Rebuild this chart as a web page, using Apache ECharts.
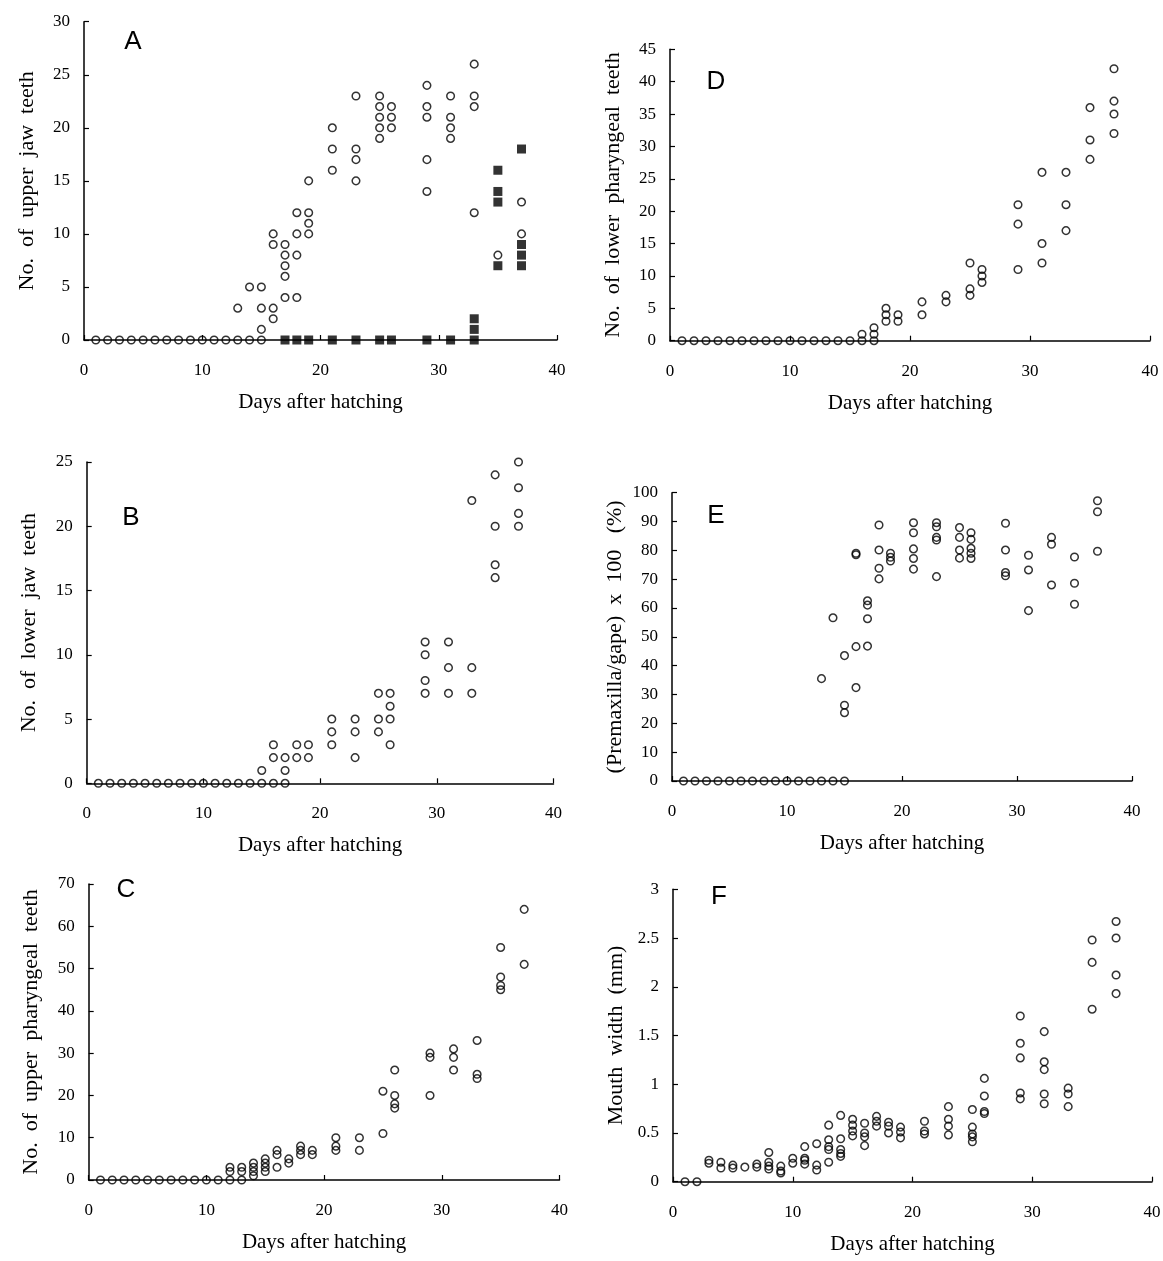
<!DOCTYPE html>
<html>
<head>
<meta charset="utf-8">
<title>Tooth development after hatching</title>
<script src="https://cdn.jsdelivr.net/npm/echarts@6/dist/echarts.min.js"></script>
<style>
  html, body { margin: 0; padding: 0; background: #fff; }
  #chart { width: 1163px; height: 1261px; }
</style>
</head>
<body>
<div id="chart"></div>
<script>
// Shared x axis: days after hatching
const dayTicks = { min: 0, max: 40, interval: 10 };

// A: number of upper jaw teeth (open circles and filled squares)
const upperJawOpen = [
  [1,0],[2,0],[3,0],[4,0],[5,0],[6,0],[7,0],[8,0],[9,0],[10,0],[11,0],[12,0],[13,0],[14,0],[15,0],
  [13,3],[14,5],[15,5],[15,3],[15,1],
  [16,10],[16,9],[16,3],[16,2],
  [17,9],[17,8],[17,7],[17,6],[17,4],
  [18,12],[18,10],[18,8],[18,4],
  [19,15],[19,12],[19,11],[19,10],
  [21,20],[21,18],[21,16],
  [23,23],[23,18],[23,17],[23,15],
  [25,23],[25,22],[25,21],[25,20],[25,19],
  [26,22],[26,21],[26,20],
  [29,24],[29,22],[29,21],[29,17],[29,14],
  [31,23],[31,21],[31,20],[31,19],
  [33,26],[33,23],[33,22],[33,12],
  [35,8],
  [37,13],[37,10]
];
const upperJawFilled = [
  [17,0],[18,0],[19,0],[21,0],[23,0],[25,0],[26,0],[29,0],[31,0],[33,0],[33,1],[33,2],
  [35,16],[35,14],[35,13],[35,7],
  [37,18],[37,9],[37,8],[37,7]
];

// B: number of lower jaw teeth
const lowerJaw = [
  [1,0],[2,0],[3,0],[4,0],[5,0],[6,0],[7,0],[8,0],[9,0],[10,0],[11,0],[12,0],[13,0],[14,0],[15,0],[16,0],[17,0],
  [15,1],[16,3],[16,2],[17,2],[17,1],[18,3],[18,2],[19,3],[19,2],
  [21,5],[21,4],[21,3],[23,5],[23,4],[23,2],
  [25,7],[25,5],[25,4],[26,7],[26,6],[26,5],[26,3],
  [29,11],[29,10],[29,8],[29,7],[31,11],[31,9],[31,7],
  [33,22],[33,9],[33,7],
  [35,24],[35,20],[35,17],[35,16],
  [37,25],[37,23],[37,21],[37,20]
];

// C: number of upper pharyngeal teeth
const upperPharyngeal = [
  [1,0],[2,0],[3,0],[4,0],[5,0],[6,0],[7,0],[8,0],[9,0],[10,0],[11,0],[12,0],[13,0],
  [12,3],[12,2],[13,3],[13,2],
  [14,4],[14,3],[14,2],[14,1],
  [15,5],[15,4],[15,3],[15,2],
  [16,7],[16,6],[16,3],[17,5],[17,4],
  [18,8],[18,7],[18,6],[19,7],[19,6],
  [21,10],[21,8],[21,7],[23,10],[23,7],
  [25,21],[25,11],[26,26],[26,20],[26,18],[26,17],
  [29,30],[29,29],[29,20],[31,31],[31,29],[31,26],
  [33,33],[33,25],[33,24],
  [35,55],[35,48],[35,46],[35,45],
  [37,64],[37,51]
];

// D: number of lower pharyngeal teeth
const lowerPharyngeal = [
  [1,0],[2,0],[3,0],[4,0],[5,0],[6,0],[7,0],[8,0],[9,0],[10,0],[11,0],[12,0],[13,0],[14,0],[15,0],[16,0],[17,0],
  [16,1],[17,2],[17,1],
  [18,5],[18,4],[18,3],[19,4],[19,3],
  [21,6],[21,4],[23,7],[23,6],
  [25,12],[25,8],[25,7],[26,11],[26,10],[26,9],
  [29,21],[29,18],[29,11],[31,26],[31,15],[31,12],
  [33,26],[33,21],[33,17],
  [35,36],[35,31],[35,28],
  [37,42],[37,37],[37,35],[37,32]
];

// E: (premaxilla / gape) x 100, %
const premaxillaRatio = [
  [1,0],[2,0],[3,0],[4,0],[5,0],[6,0],[7,0],[8,0],[9,0],[10,0],[11,0],[12,0],[13,0],[14,0],[15,0],
  [13,35.5],[14,56.6],
  [15,43.5],[15,26.3],[15,23.7],
  [16,79],[16,78.5],[16,46.6],[16,32.4],
  [17,62.5],[17,61],[17,56.3],[17,46.8],
  [18,88.8],[18,80.1],[18,73.8],[18,70.1],
  [19,79],[19,77.6],[19,76.3],
  [21,89.6],[21,86.1],[21,80.5],[21,77.2],[21,73.5],
  [23,89.6],[23,88.2],[23,84.5],[23,83.6],[23,70.9],
  [25,87.9],[25,84.5],[25,80.1],[25,77.3],
  [26,86.1],[26,83.8],[26,80.7],[26,79],[26,77.2],
  [29,89.4],[29,80.1],[29,72.3],[29,71.2],
  [31,78.3],[31,73.2],[31,59.1],
  [33,84.5],[33,82.1],[33,68],
  [35,77.7],[35,68.6],[35,61.3],
  [37,97.2],[37,93.4],[37,79.7]
];

// F: mouth width, mm
const mouthWidth = [
  [1,0],[2,0],
  [3,0.22],[3,0.19],[4,0.2],[4,0.14],[5,0.17],[5,0.14],[6,0.15],[7,0.18],[7,0.15],
  [8,0.3],[8,0.2],[8,0.16],[8,0.13],[9,0.16],[9,0.11],[9,0.09],[10,0.24],[10,0.19],
  [11,0.36],[11,0.24],[11,0.22],[11,0.18],[12,0.39],[12,0.17],[12,0.12],
  [13,0.58],[13,0.43],[13,0.36],[13,0.33],[13,0.2],
  [14,0.68],[14,0.44],[14,0.33],[14,0.29],[14,0.26],
  [15,0.64],[15,0.58],[15,0.52],[15,0.47],
  [16,0.6],[16,0.5],[16,0.46],[16,0.37],
  [17,0.67],[17,0.62],[17,0.57],[18,0.61],[18,0.57],[18,0.5],
  [19,0.56],[19,0.51],[19,0.45],[21,0.62],[21,0.52],[21,0.49],
  [23,0.77],[23,0.64],[23,0.57],[23,0.48],
  [25,0.74],[25,0.56],[25,0.49],[25,0.46],[25,0.41],
  [26,1.06],[26,0.88],[26,0.72],[26,0.7],
  [29,1.7],[29,1.42],[29,1.27],[29,0.91],[29,0.85],
  [31,1.54],[31,1.23],[31,1.15],[31,0.9],[31,0.8],
  [33,0.96],[33,0.9],[33,0.77],
  [35,2.48],[35,2.25],[35,1.77],
  [37,2.67],[37,2.5],[37,2.12],[37,1.93]
];

const SERIF = '"Liberation Serif", "Times New Roman", serif';
const SANS = '"Liberation Sans", Arial, sans-serif';

// Panel layout: plot rectangles, y ranges and labels
const panels = [
  { key: 'A', rect: [84, 21.7, 473, 318.3], yMax: 30, yStep: 5, yName: 'No.  of  upper  jaw  teeth',
    letterAt: [133, 42], series: [{ data: upperJawOpen }, { data: upperJawFilled, filled: true }] },
  { key: 'D', rect: [670, 49.3, 480, 291.4], yMax: 45, yStep: 5, yName: 'No.  of  lower  pharyngeal  teeth',
    letterAt: [716, 82], series: [{ data: lowerPharyngeal }] },
  { key: 'B', rect: [86.7, 462, 466.8, 321.3], yMax: 25, yStep: 5, yName: 'No.  of  lower  jaw  teeth',
    letterAt: [131, 518], series: [{ data: lowerJaw }] },
  { key: 'E', rect: [672, 492.7, 460, 288.3], yMax: 100, yStep: 10, yName: '(Premaxilla/gape)  x  100   (%)',
    letterAt: [716, 516], series: [{ data: premaxillaRatio }] },
  { key: 'C', rect: [88.7, 884, 470.8, 296], yMax: 70, yStep: 10, yName: 'No.  of  upper  pharyngeal  teeth',
    letterAt: [126, 890], series: [{ data: upperPharyngeal }] },
  { key: 'F', rect: [673, 889.3, 479, 292.4], yMax: 3, yStep: 0.5, yName: 'Mouth  width  (mm)',
    letterAt: [719, 897], series: [{ data: mouthWidth }] }
];

const axisLine = { show: true, onZero: false, lineStyle: { color: '#000', width: 1.5 } };
const axisTick = { show: true, inside: true, length: 5, lineStyle: { color: '#000', width: 1.2 } };

const grid = [], xAxis = [], yAxis = [], series = [], graphic = [];

panels.forEach((p, i) => {
  grid.push({ left: p.rect[0], top: p.rect[1], width: p.rect[2], height: p.rect[3],
    containLabel: false, outerBoundsMode: 'none' });
  xAxis.push({
    gridIndex: i, type: 'value', min: dayTicks.min, max: dayTicks.max, interval: dayTicks.interval,
    axisLine, axisTick, splitLine: { show: false },
    axisLabel: { color: '#000', fontFamily: SERIF, fontSize: 17, margin: 22 },
    name: 'Days after hatching', nameLocation: 'middle', nameGap: 52,
    nameTextStyle: { color: '#000', fontFamily: SERIF, fontSize: 21 }
  });
  yAxis.push({
    gridIndex: i, type: 'value', min: 0, max: p.yMax, interval: p.yStep,
    axisLine, axisTick, splitLine: { show: false },
    axisLabel: { color: '#000', fontFamily: SERIF, fontSize: 17, margin: 14 },
    name: p.yName, nameLocation: 'middle', nameRotate: 90, nameGap: 46,
    nameTextStyle: { color: '#000', fontFamily: SERIF, fontSize: 22 }
  });
  p.series.forEach(s => {
    series.push({
      type: 'scatter', xAxisIndex: i, yAxisIndex: i, data: s.data, clip: false,
      symbol: s.filled ? 'rect' : 'circle',
      symbolSize: s.filled ? 9 : 7.6,
      itemStyle: s.filled
        ? { color: '#000', borderColor: '#000', borderWidth: 0 }
        : { color: 'rgba(255,255,255,0)', borderColor: '#000', borderWidth: 1.5 },
      emphasis: { disabled: true },
      z: s.filled ? 3 : 4
    });
  });
  graphic.push({
    type: 'text', x: p.letterAt[0], y: p.letterAt[1],
    style: { text: p.key, fill: '#000', font: '26px ' + SANS, align: 'center', verticalAlign: 'middle' }
  });
});

const chart = echarts.init(document.getElementById('chart'), null, { renderer: 'canvas' });
chart.setOption({
  backgroundColor: '#fff',
  animation: false,
  grid, xAxis, yAxis, series, graphic
});
</script>
</body>
</html>
